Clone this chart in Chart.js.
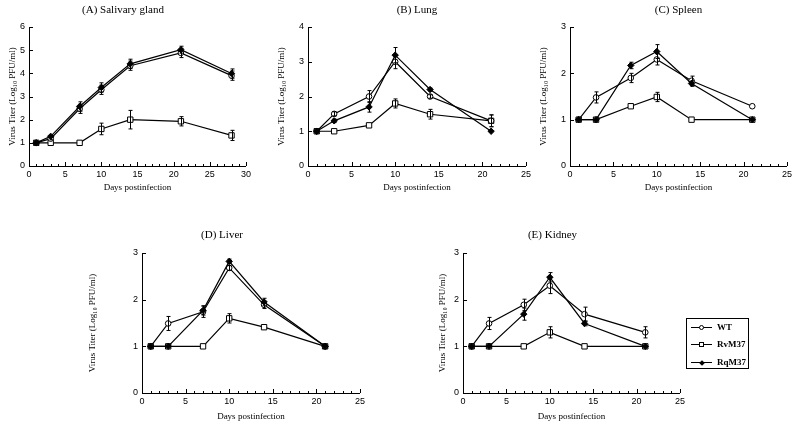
<!DOCTYPE html>
<html>
<head>
<meta charset="utf-8">
<script src="https://cdn.jsdelivr.net/npm/chart.js@4"></script>
<style>
  body { margin: 0; background: #fff; width: 800px; height: 427px; position: relative; overflow: hidden; }
  canvas { position: absolute; }
  #legend { position: absolute; left: 686px; top: 318px; width: 63px; height: 51px; border: 1px solid #000;
            box-sizing: border-box; font: bold 9px "Liberation Serif", serif; color: #000; }
  #legend .row { position: absolute; left: 0; height: 10px; line-height: 10px; width: 100%; }
  #legend .line { position: absolute; left: 4px; top: 5px; width: 21px; height: 1px; background: #000; }
  #legend .mk { position: absolute; box-sizing: border-box; }
  #legend .circle { left: 8px; top: -2px; width: 5px; height: 5px; border: 1px solid #000; border-radius: 50%; background: #fff; }
  #legend .square { left: 8px; top: -2px; width: 5px; height: 5px; border: 1px solid #000; background: #fff; }
  #legend .diamond { left: 9px; top: -1px; width: 4px; height: 4px; background: #000; transform: rotate(45deg); }
  #legend .text { position: absolute; left: 30px; top: 0; }
</style>
</head>
<body>
<canvas id="salivary" width="254" height="195" style="left:0px;top:0px"></canvas>
<canvas id="lung" width="268" height="195" style="left:266px;top:0px"></canvas>
<canvas id="spleen" width="265" height="195" style="left:530px;top:0px"></canvas>
<canvas id="liver" width="284" height="199" style="left:84px;top:225px"></canvas>
<canvas id="kidney" width="263" height="199" style="left:425px;top:225px"></canvas>
<div id="legend"></div>
<script>
const seriesLabels = ['WT', 'RvM37', 'RqM37'];
const daysSalivary = [1, 3, 7, 10, 14, 21, 28];
const daysOrgan = [1, 3, 7, 10, 14, 21];

// (A) Salivary gland
const wtSalivary = [1.0, 1.18, 2.47, 3.29, 4.33, 4.88, 3.9];
const wtSalivaryErr = [0, 0.05, 0.2, 0.2, 0.2, 0.2, 0.2];
const rvSalivary = [1.0, 1.0, 1.0, 1.6, 2.0, 1.93, 1.32];
const rvSalivaryErr = [0, 0, 0, 0.25, 0.4, 0.2, 0.22];
const rqSalivary = [1.0, 1.28, 2.57, 3.39, 4.41, 5.02, 3.99];
const rqSalivaryErr = [0, 0.05, 0.2, 0.2, 0.2, 0.15, 0.2];

// (B) Lung
const wtLung = [1.0, 1.5, 2.0, 3.0, 2.0, 1.3];
const wtLungErr = [0, 0.06, 0.17, 0.2, 0.05, 0.17];
const rvLung = [1.0, 1.0, 1.17, 1.8, 1.49, 1.3];
const rvLungErr = [0, 0, 0, 0.13, 0.14, 0.17];
const rqLung = [1.0, 1.3, 1.7, 3.19, 2.2, 1.0];
const rqLungErr = [0, 0.05, 0.15, 0.22, 0.04, 0];

// (C) Spleen
const wtSpleen = [1.0, 1.48, 1.9, 2.3, 1.84, 1.29];
const wtSpleenErr = [0, 0.12, 0.1, 0.12, 0.1, 0];
const rvSpleen = [1.0, 1.0, 1.29, 1.49, 1.0, 1.0];
const rvSpleenErr = [0, 0, 0, 0.1, 0, 0];
const rqSpleen = [1.0, 1.0, 2.17, 2.47, 1.78, 1.0];
const rqSpleenErr = [0, 0, 0.07, 0.15, 0.06, 0];

// (D) Liver
const wtLiver = [1.0, 1.49, 1.74, 2.68, 1.89, 1.0];
const wtLiverErr = [0, 0.15, 0.12, 0.05, 0.08, 0];
const rvLiver = [1.0, 1.0, 1.0, 1.6, 1.41, 1.0];
const rvLiverErr = [0, 0, 0, 0.1, 0, 0];
const rqLiver = [1.0, 1.0, 1.77, 2.82, 1.95, 1.0];
const rqLiverErr = [0, 0, 0.1, 0.05, 0.08, 0];

// (E) Kidney
const wtKidney = [1.0, 1.49, 1.89, 2.3, 1.69, 1.3];
const wtKidneyErr = [0, 0.13, 0.12, 0.17, 0.15, 0.12];
const rvKidney = [1.0, 1.0, 1.0, 1.3, 1.0, 1.0];
const rvKidneyErr = [0, 0, 0, 0.12, 0, 0];
const rqKidney = [1.0, 1.0, 1.69, 2.48, 1.49, 1.0];
const rqKidneyErr = [0, 0, 0.13, 0.1, 0.05, 0];

Chart.defaults.color = '#000';
Chart.defaults.font.family = '"Liberation Serif", serif';

// error bars, drawn through the markers
const errorBars = {
    id: 'errorBars',
    afterDatasetsDraw(chart) {
        const { ctx, scales: { x, y } } = chart;
        ctx.save();
        ctx.strokeStyle = '#000';
        ctx.lineWidth = 1;
        ctx.beginPath();
        chart.data.datasets.forEach(ds => {
            ds.data.forEach((p, i) => {
                const e = ds.errors[i];
                if (!e) return;
                const px = Math.round(x.getPixelForValue(p.x)) + 0.5;
                const top = y.getPixelForValue(p.y + e);
                const bot = y.getPixelForValue(p.y - e);
                ctx.moveTo(px, top); ctx.lineTo(px, bot);
                ctx.moveTo(px - 2, top); ctx.lineTo(px + 2, top);
                ctx.moveTo(px - 2, bot); ctx.lineTo(px + 2, bot);
            });
        });
        ctx.stroke();
        ctx.restore();
    }
};

// ticks pointing into the plot, minor ones every day
const innerTicks = {
    id: 'innerTicks',
    afterDraw(chart) {
        const { ctx, scales: { x, y } } = chart;
        ctx.save();
        ctx.strokeStyle = '#000';
        ctx.lineWidth = 1;
        ctx.beginPath();
        for (let d = x.min + 1; d <= x.max; d++) {
            const px = Math.round(x.getPixelForValue(d)) + 0.5;
            const len = d % 5 === 0 ? 4 : 2;
            ctx.moveTo(px, y.bottom); ctx.lineTo(px, y.bottom - len);
        }
        for (let v = y.min + 1; v <= y.max; v++) {
            const py = Math.round(y.getPixelForValue(v)) + 0.5;
            ctx.moveTo(x.left, py); ctx.lineTo(x.left + 4, py);
        }
        ctx.stroke();
        ctx.restore();
    }
};

function series(label, days, values, errors, style) {
    return Object.assign({
        label: label,
        data: days.map((d, i) => ({ x: d, y: values[i] })),
        errors: errors,
        borderColor: '#000',
        borderWidth: 1.2,
        pointBorderColor: '#000',
        pointBorderWidth: 1,
        tension: 0
    }, style);
}

const wtStyle = { pointStyle: 'circle', pointRadius: 2.8, pointBackgroundColor: '#fff' };
const rvStyle = { pointStyle: 'rect', pointRadius: 3.8, pointBackgroundColor: '#fff' };
const rqStyle = { pointStyle: 'rectRot', pointRadius: 3.2, pointBackgroundColor: '#000' };

function drawPanel(id, title, days, wt, wtErr, rv, rvErr, rq, rqErr, xMax, yMax, box) {
    const ctx = document.getElementById(id).getContext('2d');
    new Chart(ctx, {
        type: 'line',
        data: {
            datasets: [
                series(seriesLabels[2], days, rq, rqErr, rqStyle),
                series(seriesLabels[0], days, wt, wtErr, wtStyle),
                series(seriesLabels[1], days, rv, rvErr, rvStyle)
            ]
        },
        options: {
            responsive: false,
            animation: false,
            layout: { padding: { left: 0, right: 8, top: 0, bottom: 0 } },
            plugins: {
                legend: { display: false },
                tooltip: { enabled: false },
                title: {
                    display: true,
                    text: title,
                    fullSize: box.fullTitle,
                    font: { size: 11, weight: 'normal', lineHeight: '16px' },
                    padding: { top: 2, bottom: box.titleGap }
                }
            },
            scales: {
                x: {
                    type: 'linear',
                    min: 0, max: xMax,
                    grid: { display: false, drawTicks: false },
                    border: { color: '#000', width: 1 },
                    ticks: { stepSize: 5, padding: 3, font: { family: '"Liberation Sans", sans-serif', size: 9 } },
                    title: { display: true, text: 'Days postinfection', font: { size: 9 }, padding: { top: 0, bottom: 2 } },
                    afterFit: s => { s.height = box.xAxis; }
                },
                y: {
                    min: 0, max: yMax,
                    grid: { display: false, drawTicks: false },
                    border: { color: '#000', width: 1 },
                    ticks: { stepSize: 1, padding: 4, font: { family: '"Liberation Sans", sans-serif', size: 9 } },
                    title: { display: true, text: 'Virus Titer (Log\u2081\u2080 PFU/ml)', font: { size: 9 }, padding: { top: box.yTitlePad, bottom: 0 } },
                    afterFit: s => { s.width = box.yAxis; }
                }
            }
        },
        plugins: [errorBars, innerTicks]
    });
}

drawPanel('salivary', '(A) Salivary gland', daysSalivary, wtSalivary, wtSalivaryErr, rvSalivary, rvSalivaryErr, rqSalivary, rqSalivaryErr, 30, 6,
    { fullTitle: true, titleGap: 9, xAxis: 29, yAxis: 29, yTitlePad: 7 });
drawPanel('lung', '(B) Lung', daysOrgan, wtLung, wtLungErr, rvLung, rvLungErr, rqLung, rqLungErr, 25, 4,
    { fullTitle: false, titleGap: 9, xAxis: 29, yAxis: 42, yTitlePad: 10 });
drawPanel('spleen', '(C) Spleen', daysOrgan, wtSpleen, wtSpleenErr, rvSpleen, rvSpleenErr, rqSpleen, rqSpleenErr, 25, 3,
    { fullTitle: false, titleGap: 9, xAxis: 29, yAxis: 40, yTitlePad: 8 });
drawPanel('liver', '(D) Liver', daysOrgan, wtLiver, wtLiverErr, rvLiver, rvLiverErr, rqLiver, rqLiverErr, 25, 3,
    { fullTitle: true, titleGap: 10, xAxis: 31, yAxis: 58, yTitlePad: 3 });
drawPanel('kidney', '(E) Kidney', daysOrgan, wtKidney, wtKidneyErr, rvKidney, rvKidneyErr, rqKidney, rqKidneyErr, 25, 3,
    { fullTitle: true, titleGap: 10, xAxis: 31, yAxis: 38, yTitlePad: 12 });

// legend box
const markerClass = ['circle', 'square', 'diamond'];
const rowTops = [3, 20, 38];
const legend = document.getElementById('legend');
seriesLabels.forEach((label, i) => {
    legend.innerHTML += `
      <div class="row" style="top:${rowTops[i]}px">
        <span class="line"><span class="mk ${markerClass[i]}"></span></span>
        <span class="text">${label}</span>
      </div>`;
});
</script>
</body>
</html>
